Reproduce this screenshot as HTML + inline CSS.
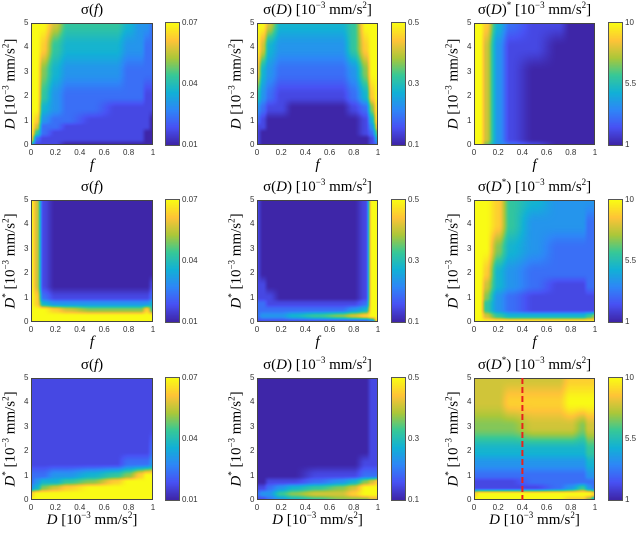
<!DOCTYPE html>
<html><head><meta charset="utf-8">
<style>
body{margin:0;background:#fff;width:640px;height:533px;position:relative;overflow:hidden;font-family:"Liberation Serif",serif}
.abs{position:absolute}
.tick{position:absolute;font-family:"Liberation Sans",sans-serif;font-size:8px;color:#333;white-space:nowrap}
.title{position:absolute;font-size:15px;white-space:nowrap;transform:translateX(-50%);color:#000}
.xl{position:absolute;font-size:15px;white-space:nowrap;transform:translateX(-50%);color:#000}
.yl{position:absolute;font-size:15px;white-space:nowrap;transform:translate(-50%,-50%) rotate(-90deg);color:#000}
.frame{position:absolute;border:1px solid #444;box-sizing:border-box}
i{font-style:italic}
sup{font-size:9px;vertical-align:6px;line-height:0}
</style></head><body>
<script>
// grid axes (shared)
const xGrid=[0,0.05,0.1,0.2,0.3,0.5,0.7,0.8,0.9,0.95,1];
const yGrid=[5,4,3,2,1.5,1,0.75,0.5,0.25,0];
const xTicks=["0","0.2","0.4","0.6","0.8","1"];
const yTicks=["0","1","2","3","4","5"];
// heatmap values, digit 0..9 = colorbar fraction (rows top y=5 -> bottom y=0)
const gridA=["99975554332","99854443322","99643332222","99532222211","99432211111","98322111110","97221111110","95211111100","82111111100","41110000000"];
const gridB=["99744445999","97433335899","84322223699","53211112489","32110001269","21000000149","11000000138","10000000126","10000000014","10000000012"];
const gridC=["99842110000","99731100000","99731000000","99731000000","99731000000","99731000000","99731000000","99731000000","99731000000","99632100000"];
const gridD=["97100000000","97100000000","97100000000","97100000000","97100000001","98211111112","98433333334","99987666685","99999999999","99999999999"];
const gridE=["10000000199","10000000199","10000000199","10000000199","11000000199","11100000199","22111111299","22222223499","23334567899","11111111129"];
const gridF=["99985433333","99985333322","99964322222","99843222222","99743211122","99632111111","99532111111","99532111111","99754444456","99999999999"];
const gridG=["11111111111","11111111111","11111111111","11111111112","11111112223","22233456899","23445689999","34678999999","89999999999","99999999999"];
const gridH=["00000000011","00000000011","00000000011","00000000011","00000000111","00000111222","00111234678","11234567999","23356778999","11234566677"];
const gridI=["77777778888","77778889999","66666777677","44444444455","33333333344","22222222233","11111222222","11111123532","89999999998","99999998863"];
const cbLabels1=["0.07","0.04","0.01"],cbLabels2=["0.5","0.3","0.1"],cbLabels3=["10","5.5","1"];
const dashedLineD=[0.4];

const P=[[62,38,168],[72,82,244],[46,135,247],[18,177,214],[55,200,151],[171,199,57],[254,195,56],[249,251,21]];
function parula(t){t=Math.max(0,Math.min(1,t))*7;const i=Math.min(6,Math.floor(t)),f=t-i;return P[i].map((c,k)=>Math.round(c+(P[i+1][k]-c)*f));}
function sample(g,x,y){
  let i=0;while(i<xGrid.length-2&&x>xGrid[i+1])i++;
  let j=0;while(j<yGrid.length-2&&y<yGrid[j+1])j++;
  let fx=(x-xGrid[i])/(xGrid[i+1]-xGrid[i]),fy=(y-yGrid[j])/(yGrid[j+1]-yGrid[j]);
  fx=fx*fx*(3-2*fx);fy=fy*fy*(3-2*fy);
  const v=(r,c)=>+g[r][c];
  const a=v(j,i)*(1-fx)+v(j,i+1)*fx,b=v(j+1,i)*(1-fx)+v(j+1,i+1)*fx;
  return (a*(1-fy)+b*fy)/9;
}
const cols=[{x:31,w:122,cb:166},{x:257,w:121,cb:392},{x:474,w:121,cb:609}];
const rows=[{y:23,h:122},{y:200,h:122},{y:378,h:122}];
const grids=[[gridA,gridB,gridC],[gridD,gridE,gridF],[gridG,gridH,gridI]];
const cbL=[cbLabels1,cbLabels2,cbLabels3];
const U=' [10<sup>−3</sup> mm/s<sup>2</sup>]';
const titles=[["σ(<i>f</i>)","σ(<i>D</i>)"+U,"σ(<i>D</i>)<sup>*</sup>"+U],["σ(<i>f</i>)","σ(<i>D</i>)"+U,"σ(<i>D</i><sup>*</sup>)"+U],["σ(<i>f</i>)","σ(<i>D</i>)"+U,"σ(<i>D</i><sup>*</sup>)"+U]];
const ylabs=["<i>D</i>"+U,"<i>D</i><sup>*</sup>"+U,"<i>D</i><sup>*</sup>"+U];
const xlabs=["<i>f</i>","<i>f</i>","<i>D</i>"+U];
function add(cls,html,css){const d=document.createElement('div');d.className=cls;d.innerHTML=html;Object.assign(d.style,css);document.body.appendChild(d);return d;}
for(let r=0;r<3;r++)for(let c=0;c<3;c++){
  const C=cols[c],R=rows[r],g=grids[r][c];
  const cv=document.createElement('canvas');cv.width=C.w;cv.height=R.h;cv.className='abs';
  
  
  cv.style.left=C.x+'px';cv.style.top=R.y+'px';
  const ctx=cv.getContext('2d'),im=ctx.createImageData(C.w,R.h);
  for(let py=0;py<R.h;py++)for(let px=0;px<C.w;px++){
    const col=parula(sample(g,(px+.5)/C.w,5*(1-(py+.5)/R.h)));const k=(py*C.w+px)*4;
    im.data[k]=col[0];im.data[k+1]=col[1];im.data[k+2]=col[2];im.data[k+3]=255;}
  ctx.putImageData(im,0,0);document.body.appendChild(cv);
  const fr=add('frame','',{left:C.x+'px',top:R.y+'px',width:C.w+'px',height:R.h+'px'});
  
  
  if(r===2&&c===2){const xd=C.x+dashedLineD[0]*C.w;
    const s=document.createElementNS('http://www.w3.org/2000/svg','svg');s.setAttribute('width',640);s.setAttribute('height',533);s.style.cssText='position:absolute;left:0;top:0';
    s.innerHTML=`<line x1="${xd}" y1="${R.y}" x2="${xd}" y2="${R.y+R.h}" stroke="#e8221c" stroke-width="2" stroke-dasharray="6,3"/>`;
    
    
    document.body.appendChild(s);}
  xTicks.forEach((t,i)=>{const e=add('tick',t,{left:(C.x+i/5*C.w)+'px',top:(R.y+R.h+3)+'px',transform:'translateX(-50%)'});
    
    });
  yTicks.forEach((t,i)=>{const e=add('tick',t,{left:(C.x-7)+'px',top:(R.y+R.h-i/5*R.h-5)+'px'});
    
    });
  const cb=document.createElement('canvas');cb.width=13;cb.height=R.h;cb.className='abs';
  
  
  cb.style.left=C.cb+'px';cb.style.top=R.y+'px';cb.style.outline='1px solid #555';
  const cx=cb.getContext('2d');for(let py=0;py<R.h;py++){const col=parula(1-py/(R.h-1));cx.fillStyle=`rgb(${col})`;cx.fillRect(0,py,13,1);}
  document.body.appendChild(cb);
  cbL[c].forEach((t,i)=>{const e=add('tick',t,{left:(C.cb+16)+'px',top:(R.y+i*R.h/2-5)+'px'});
    
    });
  const ti=add('title',titles[r][c],{left:(C.x+C.w/2)+'px',top:(R.y-21)+'px'});
  
  
  const xl=add('xl',xlabs[r],{left:(C.x+C.w/2)+'px',top:(R.y+R.h+12)+'px'});
  
  
  const yl=add('yl',ylabs[r],{left:(C.x-20)+'px',top:(R.y+R.h/2)+'px'});
  
  
}
</script>
</body></html>
